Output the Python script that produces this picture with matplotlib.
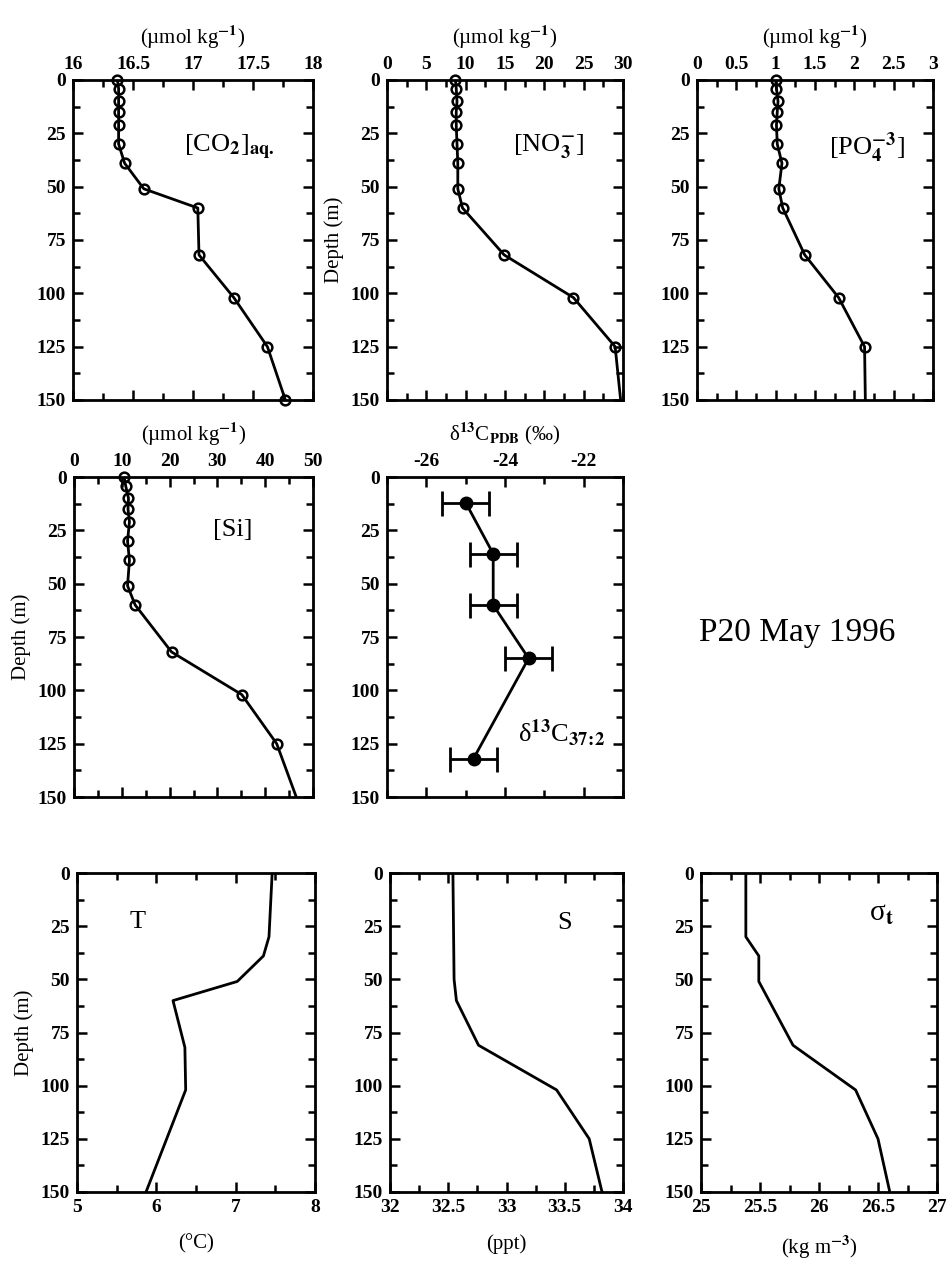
import matplotlib
matplotlib.use('Agg')
import matplotlib.pyplot as plt
from matplotlib.ticker import MultipleLocator, FuncFormatter

plt.rcParams['font.family'] = ['Liberation Serif', 'DejaVu Serif']
plt.rcParams['mathtext.fontset'] = 'stix'
plt.rcParams['font.weight'] = 'bold'

# nutrient profiles
depth_nut = [0, 4, 10, 15, 21, 30, 39, 51, 60, 82, 102, 125, 150]
co2 = [16.37, 16.38, 16.38, 16.38, 16.38, 16.38, 16.43, 16.59, 17.04, 17.05, 17.34, 17.62, 17.77]
no3 = [8.7, 8.8, 8.9, 8.8, 8.8, 8.9, 9.0, 9.0, 9.6, 14.9, 23.7, 29.0, 29.7]
po4 = [1.00, 1.01, 1.03, 1.02, 1.01, 1.02, 1.08, 1.04, 1.09, 1.37, 1.80, 2.13, 2.14]
si = [10.5, 10.8, 11.4, 11.3, 11.6, 11.2, 11.6, 11.2, 12.8, 20.4, 35.1, 42.4, 46.5]

# alkenone d13C
d13c_depth = [12, 36, 60, 85, 132]
d13c = [-25.0, -24.3, -24.3, -23.4, -24.8]
d13c_err = [0.6, 0.6, 0.6, 0.6, 0.6]

# CTD
t_depth = [0, 30, 39, 51, 60, 82, 102, 150]
temp = [7.46, 7.42, 7.35, 7.02, 6.21, 6.36, 6.37, 5.87]
s_depth = [0, 50, 60, 81, 102, 125, 150]
sal = [32.54, 32.55, 32.57, 32.76, 33.43, 33.71, 33.82]
sig_depth = [0, 30, 39, 51, 81, 102, 125, 150]
sig = [25.38, 25.38, 25.49, 25.49, 25.78, 26.31, 26.50, 26.60]

W = 951.0
H = 1261.0
fig = plt.figure(figsize=(W / 100, H / 100), dpi=100)

def make_ax(left, top, width, height):
	return fig.add_axes([left / W, 1 - (top + height) / H, width / W, height / H])

def style(ax, xlim, major, minor, top=True):
	ax.set_xlim(xlim)
	ax.set_ylim(150, 0)
	ax.xaxis.set_major_locator(MultipleLocator(major))
	ax.xaxis.set_minor_locator(MultipleLocator(minor))
	ax.xaxis.set_major_formatter(FuncFormatter(lambda v, p: '%g' % v))
	ax.yaxis.set_major_locator(MultipleLocator(25))
	ax.yaxis.set_minor_locator(MultipleLocator(12.5))
	ax.tick_params(which='both', direction='in', top=True, right=True, width=1.8, labelsize=14)
	ax.tick_params(which='major', length=7, pad=5)
	ax.tick_params(which='minor', length=5)
	if top:
		ax.tick_params(labeltop=True, labelbottom=False)
		ax.xaxis.set_label_position('top')
	for s in ax.spines.values():
		s.set_linewidth(2)

def profile(ax, x, y, every=None):
	ax.plot(x, y, 'k-', lw=lw)
	if every is None:
		every = len(x)
	ax.plot(x[:every], y[:every], 'o', mfc='none', mec='k', ms=7, mew=1.8, clip_on=False)

umol = u'(\u00b5mol kg$^{-1}$)'
lw = 2
lab = 15
big = 19

# row 1
ax = make_ax(73, 80, 240, 320)
profile(ax, co2, depth_nut)
style(ax, (16, 18), 0.5, 0.25)
ax.set_xlabel(umol, fontsize=lab, labelpad=9)
ax.text(0.65, 0.79, '[CO$_2$]$_{\\mathrm{aq.}}$', transform=ax.transAxes, fontsize=big, fontweight='normal', ha='center', va='center')

ax = make_ax(387, 80, 236, 320)
profile(ax, no3, depth_nut, 12)
style(ax, (0, 30), 5, 2.5)
ax.set_xlabel(umol, fontsize=lab, labelpad=9)
ax.set_ylabel('Depth (m)', fontsize=lab, labelpad=5)
ax.text(0.685, 0.79, '[NO$_3^{-}$]', transform=ax.transAxes, fontsize=big, fontweight='normal', ha='center', va='center')

ax = make_ax(697, 80, 236, 320)
profile(ax, po4, depth_nut, 12)
style(ax, (0, 3), 0.5, 0.25)
ax.set_xlabel(umol, fontsize=lab, labelpad=9)
ax.text(0.72, 0.79, '[PO$_4^{-3}$]', transform=ax.transAxes, fontsize=big, fontweight='normal', ha='center', va='center')

# row 2
ax = make_ax(74, 477, 239, 320)
profile(ax, si, depth_nut, 12)
style(ax, (0, 50), 10, 5)
ax.set_xlabel(umol, fontsize=lab, labelpad=9)
ax.set_ylabel('Depth (m)', fontsize=lab, labelpad=5)
ax.text(0.665, 0.834, '[Si]', transform=ax.transAxes, fontsize=big, fontweight='normal', ha='center', va='center')

ax = make_ax(387, 477, 236, 320)
ax.errorbar(d13c, d13c_depth, xerr=d13c_err, fmt='-o', color='k', lw=lw, ms=9, capsize=9, capthick=2, elinewidth=2)
style(ax, (-27, -21), 2, 1)
ax.set_xlabel(u'\u03b4$^{13}$C$_{\\mathrm{PDB}}$ (\u2030)', fontsize=lab, labelpad=9)
ax.text(0.74, 0.2, u'\u03b4$^{13}$C$_{37\\!:\\!2}$', transform=ax.transAxes, fontsize=big, fontweight='normal', ha='center', va='center')

fig.text(797 / W, 1 - 633 / H, 'P20 May 1996', fontsize=24, fontweight='normal', ha='center', va='center')

# row 3
ax = make_ax(77, 873, 238, 319)
ax.plot(temp, t_depth, 'k-', lw=lw)
style(ax, (5, 8), 1, 0.5, top=False)
ax.set_xlabel(u'(\u00b0C)', fontsize=lab, labelpad=13)
ax.set_ylabel('Depth (m)', fontsize=lab, labelpad=5)
ax.text(0.256, 0.846, 'T', transform=ax.transAxes, fontsize=big, fontweight='normal', ha='center', va='center')

ax = make_ax(390, 873, 233, 319)
ax.plot(sal, s_depth, 'k-', lw=lw)
style(ax, (32, 34), 0.5, 0.25, top=False)
ax.set_xlabel('(ppt)', fontsize=lab, labelpad=13)
ax.text(0.75, 0.843, 'S', transform=ax.transAxes, fontsize=big, fontweight='normal', ha='center', va='center')

ax = make_ax(701, 873, 236, 319)
ax.plot(sig, sig_depth, 'k-', lw=lw)
style(ax, (25, 27), 0.5, 0.25, top=False)
ax.set_xlabel('(kg m$^{-3}$)', fontsize=lab, labelpad=13)
ax.text(0.767, 0.87, u'\u03c3$_{\\mathrm{t}}$', transform=ax.transAxes, fontsize=21, fontweight='normal', ha='center', va='center')

plt.savefig('out.png', dpi=100)
